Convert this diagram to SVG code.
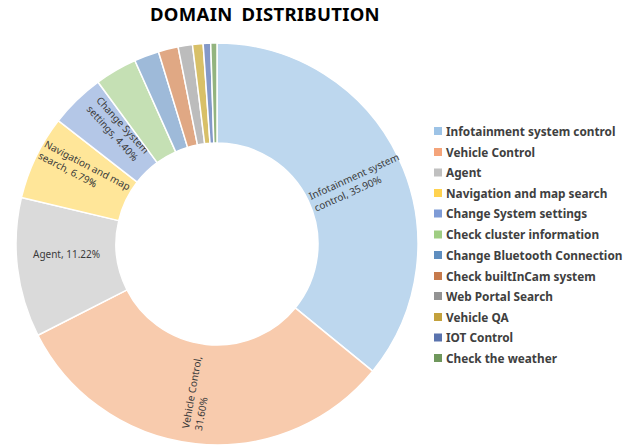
<svg xmlns="http://www.w3.org/2000/svg" width="635" height="448" viewBox="0 0 635 448">
<style>
.slice{stroke:#ffffff;stroke-width:1.5;stroke-linejoin:round}
.lbl{font-family:"Noto Sans","DejaVu Sans",sans-serif;font-size:10px;fill:#3a3a3a}
.leg{font-family:"Noto Sans","DejaVu Sans",sans-serif;font-size:11.8px;font-weight:bold;fill:#404040}
.title{font-family:"Noto Sans","DejaVu Sans",sans-serif;font-size:18.5px;font-weight:bold;fill:#000000;letter-spacing:0.3px;word-spacing:4px}
</style>
<rect width="635" height="448" fill="#ffffff"/>
<text class="title" x="265" y="21" text-anchor="middle">DOMAIN DISTRIBUTION</text>
<g id="slices">
<g id="infotainment"><path class="slice" fill="#bdd7ee" d="M217,43 A201,201 0 0 1 372.63,371.19 L295.20,307.91 A101,101 0 0 0 217,143 Z"/>
<text class="lbl" transform="translate(311,200) rotate(-24.4)"><tspan x="0" y="0">Infotainment system</tspan><tspan x="0" y="13">control, 35.90%</tspan></text></g>
<g id="vehicle-control"><path class="slice" fill="#f8cbad" d="M372.63,371.19 A201,201 0 0 1 37.91,335.25 L127.01,289.85 A101,101 0 0 0 295.20,307.91 Z"/>
<text class="lbl" transform="translate(189,429) rotate(-80)"><tspan x="0" y="0">Vehicle Control,</tspan><tspan x="0" y="13">31.60%</tspan></text></g>
<g id="agent"><path class="slice" fill="#dadada" d="M37.91,335.25 A201,201 0 0 1 21.47,197.45 L118.75,220.61 A101,101 0 0 0 127.01,289.85 Z"/>
<text class="lbl" x="33" y="258">Agent, 11.22%</text></g>
<g id="navigation"><path class="slice" fill="#ffe699" d="M21.47,197.45 A201,201 0 0 1 58.25,120.71 L137.23,182.05 A101,101 0 0 0 118.75,220.61 Z"/>
<text class="lbl" transform="translate(43.5,146.5) rotate(27.5)"><tspan x="0" y="0">Navigation and map</tspan><tspan x="0" y="13">search, 6.79%</tspan></text></g>
<g id="change-system"><path class="slice" fill="#b4c7e7" d="M58.25,120.71 A201,201 0 0 1 97.95,82.05 L157.18,162.62 A101,101 0 0 0 137.23,182.05 Z"/>
<text class="lbl" transform="translate(95.7,100.7) rotate(47.8)"><tspan x="0" y="0">Change System</tspan><tspan x="0" y="13">settings, 4.40%</tspan></text></g>
<g id="cluster"><path class="slice" fill="#c5e0b4" d="M97.95,82.05 A201,201 0 0 1 134.87,60.55 L175.73,151.82 A101,101 0 0 0 157.18,162.62 Z"/></g>
<g id="bluetooth"><path class="slice" fill="#9ebad9" d="M134.87,60.55 A201,201 0 0 1 158.49,51.70 L187.60,147.37 A101,101 0 0 0 175.73,151.82 Z"/></g>
<g id="builtincam"><path class="slice" fill="#e0a884" d="M158.49,51.70 A201,201 0 0 1 178.09,46.80 L197.45,144.91 A101,101 0 0 0 187.60,147.37 Z"/></g>
<g id="web-portal"><path class="slice" fill="#bcbcbc" d="M178.09,46.80 A201,201 0 0 1 192.44,44.51 L204.66,143.76 A101,101 0 0 0 197.45,144.91 Z"/></g>
<g id="vehicle-qa"><path class="slice" fill="#d8c068" d="M192.44,44.51 A201,201 0 0 1 203.11,43.48 L210.02,143.24 A101,101 0 0 0 204.66,143.76 Z"/></g>
<g id="iot"><path class="slice" fill="#8499c8" d="M203.11,43.48 A201,201 0 0 1 210.69,43.10 L213.83,143.05 A101,101 0 0 0 210.02,143.24 Z"/></g>
<g id="weather"><path class="slice" fill="#93b47f" d="M210.69,43.10 A201,201 0 0 1 217,43 L217,143 A101,101 0 0 0 213.83,143.05 Z"/></g>
</g>
<g id="legend">
<rect x="434" y="127" width="8" height="8" fill="#9dc3e6"/><text class="leg" x="446" y="135.5">Infotainment system control</text>
<rect x="434" y="148" width="8" height="8" fill="#f4a47a"/><text class="leg" x="446" y="156.5">Vehicle Control</text>
<rect x="434" y="168.5" width="8" height="8" fill="#c0c0c0"/><text class="leg" x="446" y="177">Agent</text>
<rect x="434" y="189" width="8" height="8" fill="#ffd24f"/><text class="leg" x="446" y="197.5">Navigation and map search</text>
<rect x="434" y="209.5" width="8" height="8" fill="#7e9bd6"/><text class="leg" x="446" y="218">Change System settings</text>
<rect x="434" y="230.5" width="8" height="8" fill="#9fcd82"/><text class="leg" x="446" y="239">Check cluster information</text>
<rect x="434" y="251" width="8" height="8" fill="#5f8ebf"/><text class="leg" x="446" y="259.5">Change Bluetooth Connection</text>
<rect x="434" y="272" width="8" height="8" fill="#c67a4c"/><text class="leg" x="446" y="280.5">Check builtInCam system</text>
<rect x="434" y="292" width="8" height="8" fill="#939393"/><text class="leg" x="446" y="300.5">Web Portal Search</text>
<rect x="434" y="313" width="8" height="8" fill="#c3a13c"/><text class="leg" x="446" y="321.5">Vehicle QA</text>
<rect x="434" y="333.5" width="8" height="8" fill="#5a73ae"/><text class="leg" x="446" y="342">IOT Control</text>
<rect x="434" y="354" width="8" height="8" fill="#6f975c"/><text class="leg" x="446" y="362.5">Check the weather</text>
</g>
</svg>
